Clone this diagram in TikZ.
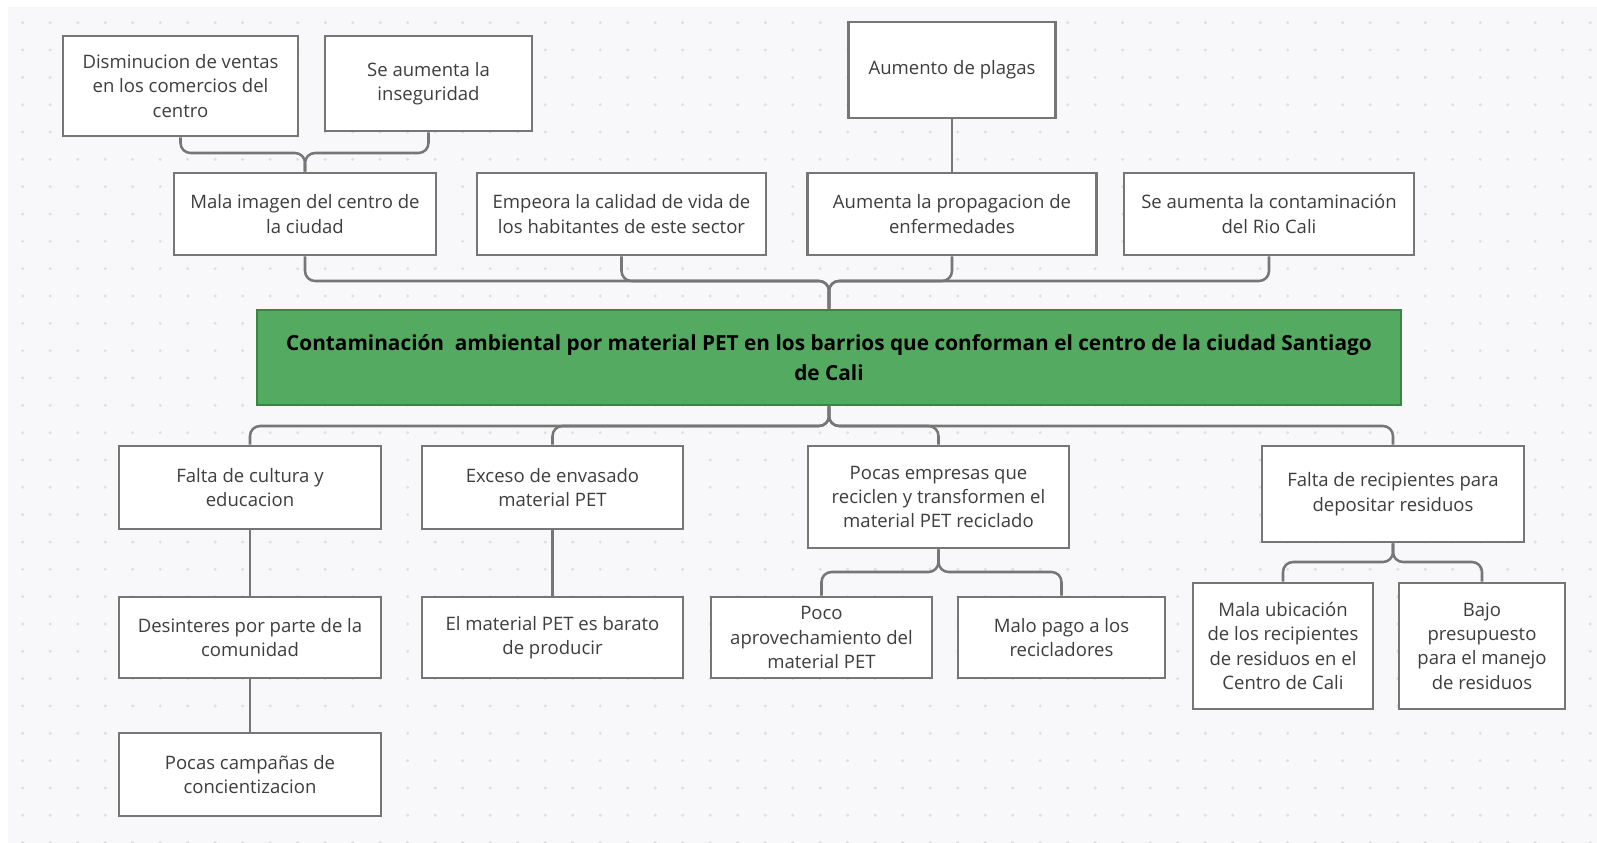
\documentclass[tikz,border=0pt]{standalone}
\usepackage{fontspec}
\setmainfont{Open Sans}
\definecolor{bgc}{RGB}{248,248,250}
\definecolor{dotc}{RGB}{222,222,226}
\definecolor{linec}{RGB}{118,118,118}
\definecolor{txtc}{RGB}{62,62,62}
\definecolor{greenf}{RGB}{85,170,98}
\definecolor{greend}{RGB}{58,132,68}
\begin{document}
\begin{tikzpicture}[x=0.75pt,y=-0.75pt,
  box/.style={draw=linec, line width=1.9pt, fill=white, text=txtc, align=center,
    font=\fontsize{13.9}{18.3}\selectfont, inner sep=0pt},
  mainbox/.style={draw=greend, line width=1.9pt, fill=greenf, text=black, align=center,
    font=\fontsize{15.6}{22}\selectfont\bfseries, inner sep=0pt},
  conn/.style={draw=linec, line width=1.9pt, rounded corners=7.5pt}]
\useasboundingbox (0,0) rectangle (1597,843);
\fill[white] (0,0) rectangle (1597,843);
\fill[bgc] (8,7) rectangle (1597,843);
\foreach \i in {0,...,57}{\foreach \j in {0,...,30}{\fill[dotc] ({22.7+27.5*\i},{22.7+27.33*\j}) circle (1.2pt);}}

% top row
\node[box, minimum width=176.25pt, minimum height=75pt] (A1) at (180.5,86) {Disminucion de ventas\\en los comercios del\\centro};
\node[box, minimum width=155.25pt, minimum height=71.25pt] (A2) at (428.5,83.5) {Se aumenta la\\inseguridad};
\node[box, minimum width=155.25pt, minimum height=72pt] (A3) at (952,70) {Aumento de plagas};
% second row
\node[box, minimum width=196.5pt, minimum height=61.5pt] (B1) at (305,214) {Mala imagen del centro de\\la ciudad};
\node[box, minimum width=216.75pt, minimum height=61.5pt] (B2) at (621.5,214) {Empeora la calidad de vida de\\los habitantes de este sector};
\node[box, minimum width=216.75pt, minimum height=61.5pt] (B3) at (952,214) {Aumenta la propagacion de\\enfermedades};
\node[box, minimum width=217.5pt, minimum height=61.5pt] (B4) at (1269,214) {Se aumenta la contaminación\\del Rio Cali};
% central problem
\node[mainbox, minimum width=858pt, minimum height=71.25pt] (T) at (829,357.5) {Contaminación~ ambiental por material PET en los barrios que conforman el centro de la ciudad Santiago\\de Cali};
% causes
\node[box, minimum width=196.5pt, minimum height=62.25pt] (C1) at (250,487.5) {Falta de cultura y\\educacion};
\node[box, minimum width=195.75pt, minimum height=62.25pt] (C2) at (552.5,487.5) {Exceso de envasado\\material PET};
\node[box, minimum width=195.75pt, minimum height=76.5pt] (C3) at (938.5,497) {Pocas empresas que\\reciclen y transformen el\\material PET reciclado};
\node[box, minimum width=196.5pt, minimum height=72pt] (C4) at (1393,494) {Falta de recipientes para\\depositar residuos};
\node[box, minimum width=196.5pt, minimum height=60.75pt] (D1) at (250,637.5) {Desinteres por parte de la\\comunidad};
\node[box, minimum width=195.75pt, minimum height=60.75pt] (D2) at (552.5,637.5) {El material PET es barato\\de producir};
\node[box, minimum width=165.75pt, minimum height=60.75pt] (D3) at (821.5,637.5) {Poco\\aprovechamiento del\\material PET};
\node[box, minimum width=155.25pt, minimum height=60.75pt] (D4) at (1061.5,637.5) {Malo pago a los\\recicladores};
\node[box, minimum width=135pt, minimum height=94.5pt] (D5) at (1283,646) {Mala ubicación\\de los recipientes\\de residuos en el\\Centro de Cali};
\node[box, minimum width=124.5pt, minimum height=94.5pt] (D6) at (1482,646) {Bajo\\presupuesto\\para el manejo\\de residuos};
\node[box, minimum width=196.5pt, minimum height=62.25pt] (E1) at (250,774.5) {Pocas campañas de\\concientizacion};

% junctions
\coordinate (jA) at (305,153);
\coordinate (jB) at (829,281);
\coordinate (jC) at (829,426);
\coordinate (jD3) at (938.5,572);
\coordinate (jD5) at (1393,562);

% connectors
\draw[conn] (A1.south) |- (jA) -- (B1.north);
\draw[conn] (A2.south) |- (jA) -- (B1.north);
\draw[conn] (A3.south) -- (B3.north);
\draw[conn] (B1.south) |- (jB) -- (T.north);
\draw[conn] (B2.south) |- (jB) -- (T.north);
\draw[conn] (B3.south) |- (jB) -- (T.north);
\draw[conn] (B4.south) |- (jB) -- (T.north);
\draw[conn] (T.south) -- (jC) -| (C1.north);
\draw[conn] (T.south) -- (jC) -| (C2.north);
\draw[conn] (T.south) -- (jC) -| (C3.north);
\draw[conn] (T.south) -- (jC) -| (C4.north);
\draw[conn] (C1.south) -- (D1.north);
\draw[conn] (D1.south) -- (E1.north);
\draw[conn] (C2.south) -- (D2.north);
\draw[conn] (C3.south) -- (jD3) -| (D3.north);
\draw[conn] (C3.south) -- (jD3) -| (D4.north);
\draw[conn] (C4.south) -- (jD5) -| (D5.north);
\draw[conn] (C4.south) -- (jD5) -| (D6.north);
\end{tikzpicture}
\end{document}
